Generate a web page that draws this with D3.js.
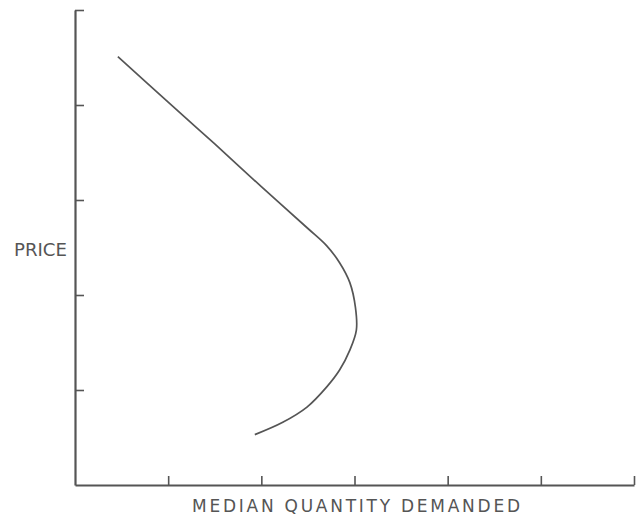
<!DOCTYPE html>
<html><head><meta charset="utf-8">
<script src="https://cdn.jsdelivr.net/npm/d3@7"></script>
<style>body{margin:0;background:#fff}svg{display:block}</style>
</head><body>
<svg id="c" width="641" height="520"></svg>
<script>
const xTicks = [1, 2, 3, 4, 5, 6];
const yTicks = [1, 2, 3, 4, 5];
const curveX = [0.46, 1.0, 1.5, 2.0, 2.5, 2.70, 2.84, 2.95, 3.01, 3.02, 2.95, 2.84, 2.70, 2.49, 2.23, 1.93];
const curveY = [4.51, 4.03, 3.59, 3.14, 2.70, 2.52, 2.34, 2.13, 1.87, 1.63, 1.42, 1.21, 1.03, 0.82, 0.66, 0.53];
const xLabel = "MEDIAN QUANTITY DEMANDED";
const yLabel = "PRICE";

const svg = d3.select("#c");
const x = d3.scaleLinear().domain([0, 6]).range([75, 634]);
const y = d3.scaleLinear().domain([0, 5]).range([485, 10]);
const ink = "#555";

const gx = svg.append("g").attr("transform", `translate(0,${y(0)})`)
  .call(d3.axisBottom(x).tickValues(xTicks).tickFormat("").tickSizeInner(-9).tickSizeOuter(0));
const gy = svg.append("g").attr("transform", `translate(${x(0)},0)`)
  .call(d3.axisLeft(y).tickValues(yTicks).tickFormat("").tickSizeInner(-9).tickSizeOuter(0));
[gx, gy].forEach(g => {
  g.select(".domain").attr("stroke", ink).attr("stroke-width", 2.2);
  g.selectAll(".tick line").attr("stroke", ink).attr("stroke-width", 1.6);
});

const pts = curveX.map((v, i) => [v, curveY[i]]);
svg.append("path").datum(pts)
  .attr("d", d3.line().x(d => x(d[0])).y(d => y(d[1])).curve(d3.curveCatmullRom.alpha(0.5)))
  .attr("fill", "none").attr("stroke", ink).attr("stroke-width", 1.7);

svg.append("text").text(yLabel)
  .attr("x", 14).attr("y", 256)
  .attr("font-family", "'DejaVu Sans', sans-serif").attr("font-size", 17)
  .attr("fill", ink).attr("textLength", 53).attr("lengthAdjust", "spacingAndGlyphs");
svg.append("text").text(xLabel)
  .attr("x", 192).attr("y", 512)
  .attr("font-family", "'DejaVu Sans', sans-serif").attr("font-size", 17)
  .attr("fill", ink).attr("textLength", 328).attr("lengthAdjust", "spacing");
</script>
</body></html>
